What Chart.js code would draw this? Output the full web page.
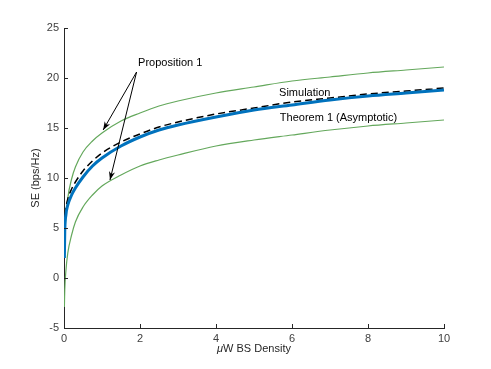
<!DOCTYPE html>
<html>
<head>
<meta charset="utf-8">
<script src="https://cdn.jsdelivr.net/npm/chart.js@4"></script>
<style>
  html, body { margin: 0; padding: 0; background: #fff; }
  #wrap { width: 491px; height: 369px; }
</style>
</head>
<body>
<div id="wrap"><canvas id="se-chart" width="491" height="369"></canvas></div>
<script>
// values
const density = [0.01, 0.02, 0.05, 0.1, 0.2, 0.3, 0.5, 0.75, 1, 1.5, 2, 2.5, 3, 4, 5, 6, 7, 8, 9, 10];
const simulation = [3.0, 5.4, 6.9, 7.9, 8.9, 9.6, 10.7, 11.7, 12.5, 13.6, 14.4, 15.1, 15.6, 16.4, 17.0, 17.6, 18.0, 18.4, 18.7, 19.0];
const theorem1 = [2.0, 4.6, 6.3, 7.3, 8.3, 9.0, 10.1, 11.2, 12.0, 13.2, 14.1, 14.8, 15.3, 16.1, 16.8, 17.3, 17.8, 18.2, 18.5, 18.8];
const propUpper = [2.5, 4.2, 6.0, 8.0, 9.9, 11.1, 12.6, 13.7, 14.5, 15.7, 16.5, 17.2, 17.7, 18.5, 19.1, 19.7, 20.1, 20.5, 20.8, 21.1];
const propLower = [-2.9, -1.2, 0.7, 2.5, 4.3, 5.6, 7.1, 8.3, 9.2, 10.3, 11.2, 11.8, 12.3, 13.2, 13.8, 14.3, 14.8, 15.2, 15.5, 15.8];
const xTicks = [0, 2, 4, 6, 8, 10];
const yTicks = [-5, 0, 5, 10, 15, 20, 25];

const FONT = '"Liberation Sans", Arial, Helvetica, sans-serif';
const AXIS_COLOR = '#262626';
const GREEN = '#64a85c';
const BLUE = '#0072bd';

function pts(ys) {
    return density.map((x, i) => ({ x: x, y: ys[i] }));
}

// text labels and arrows, placed in data units
const notes = [
    { text: 'Proposition 1', x: 1.95, y: 21.5 },
    { text: 'Simulation', x: 5.66, y: 18.5 },
    { text: 'Theorem 1 (Asymptotic)', x: 5.68, y: 16.0 }
];
const arrows = [
    { from: [1.91, 20.6], to: [1.03, 14.8] },
    { from: [1.91, 20.6], to: [1.21, 9.8] }
];

const inwardTicks = {
    id: 'inwardTicks',
    afterDatasetsDraw(chart) {
        const { ctx, chartArea, scales } = chart;
        ctx.save();
        ctx.strokeStyle = AXIS_COLOR;
        ctx.lineWidth = 1;
        ctx.beginPath();
        xTicks.forEach(v => {
            const px = Math.round(scales.x.getPixelForValue(v)) + 0.5;
            ctx.moveTo(px, chartArea.bottom);
            ctx.lineTo(px, chartArea.bottom - 4);
        });
        yTicks.forEach(v => {
            const py = Math.round(scales.y.getPixelForValue(v)) + 0.5;
            ctx.moveTo(chartArea.left, py);
            ctx.lineTo(chartArea.left + 4, py);
        });
        ctx.stroke();
        ctx.restore();
    }
};

// axis titles drawn by hand so the mu can be italic
const axisTitles = {
    id: 'axisTitles',
    afterDraw(chart) {
        const { ctx, chartArea } = chart;
        const midX = (chartArea.left + chartArea.right) / 2;
        const midY = (chartArea.top + chartArea.bottom) / 2;
        ctx.save();
        ctx.fillStyle = '#262626';
        ctx.textBaseline = 'middle';

        const mu = 'μ', rest = 'W BS Density';
        ctx.font = 'italic 11px ' + FONT;
        const wMu = ctx.measureText(mu).width;
        ctx.font = '11px ' + FONT;
        const wRest = ctx.measureText(rest).width;
        const x0 = midX - (wMu + wRest) / 2;
        const yT = chartArea.bottom + 21;
        ctx.textAlign = 'left';
        ctx.font = 'italic 11px ' + FONT;
        ctx.fillText(mu, x0, yT);
        ctx.font = '11px ' + FONT;
        ctx.fillText(rest, x0 + wMu, yT);

        ctx.translate(chartArea.left - 28, midY);
        ctx.rotate(-Math.PI / 2);
        ctx.textAlign = 'center';
        ctx.fillText('SE (bps/Hz)', 0, 0);
        ctx.restore();
    }
};

const annotations = {
    id: 'annotations',
    afterDatasetsDraw(chart) {
        const { ctx, scales } = chart;
        const px = v => scales.x.getPixelForValue(v);
        const py = v => scales.y.getPixelForValue(v);
        ctx.save();
        ctx.fillStyle = '#000';
        ctx.font = '11px ' + FONT;
        ctx.textBaseline = 'middle';
        ctx.textAlign = 'left';
        notes.forEach(n => ctx.fillText(n.text, px(n.x), py(n.y)));

        ctx.strokeStyle = '#000';
        ctx.lineWidth = 1;
        arrows.forEach(a => {
            const x0 = px(a.from[0]), y0 = py(a.from[1]);
            const x1 = px(a.to[0]), y1 = py(a.to[1]);
            const ang = Math.atan2(y1 - y0, x1 - x0);
            ctx.beginPath();
            ctx.moveTo(x0, y0);
            ctx.lineTo(x1, y1);
            ctx.stroke();
            ctx.beginPath();
            ctx.moveTo(x1, y1);
            ctx.lineTo(x1 - 9 * Math.cos(ang - 0.35), y1 - 9 * Math.sin(ang - 0.35));
            ctx.lineTo(x1 - 6 * Math.cos(ang), y1 - 6 * Math.sin(ang));
            ctx.lineTo(x1 - 9 * Math.cos(ang + 0.35), y1 - 9 * Math.sin(ang + 0.35));
            ctx.closePath();
            ctx.fillStyle = '#000';
            ctx.fill();
        });
        ctx.restore();
    }
};

const lineBase = { pointRadius: 0, fill: false, cubicInterpolationMode: 'monotone' };

new Chart(document.getElementById('se-chart').getContext('2d'), {
    type: 'line',
    data: {
        datasets: [
            { ...lineBase, label: 'Theorem 1 (Asymptotic)', data: pts(theorem1), borderColor: BLUE, borderWidth: 3, order: 1 },
            { ...lineBase, label: 'Simulation', data: pts(simulation), borderColor: '#000', borderWidth: 1.5, borderDash: [7, 4], order: 2 },
            { ...lineBase, label: 'Proposition 1 (upper)', data: pts(propUpper), borderColor: GREEN, borderWidth: 1.2, order: 3 },
            { ...lineBase, label: 'Proposition 1 (lower)', data: pts(propLower), borderColor: GREEN, borderWidth: 1.2, order: 3 }
        ]
    },
    options: {
        responsive: false,
        animation: false,
        events: [],
        layout: { padding: { top: 28, right: 47, left: 0, bottom: 0 } },
        plugins: {
            legend: { display: false },
            tooltip: { enabled: false }
        },
        scales: {
            x: {
                type: 'linear',
                min: 0,
                max: 10,
                afterBuildTicks: scale => { scale.ticks = xTicks.map(v => ({ value: v })); },
                afterFit: scale => { scale.height = 41; },
                grid: { display: false, drawTicks: false },
                border: { display: true, color: AXIS_COLOR, width: 1 },
                ticks: { color: '#404040', font: { family: FONT, size: 11 }, padding: 4, maxRotation: 0 },
                title: { display: false }
            },
            y: {
                type: 'linear',
                min: -5,
                max: 25,
                afterBuildTicks: scale => { scale.ticks = yTicks.map(v => ({ value: v })); },
                afterFit: scale => { scale.width = 64; },
                grid: { display: false, drawTicks: false },
                border: { display: true, color: AXIS_COLOR, width: 1 },
                ticks: { color: '#404040', font: { family: FONT, size: 11 }, padding: 5 },
                title: { display: false }
            }
        }
    },
    plugins: [inwardTicks, annotations, axisTitles]
});
</script>
</body>
</html>
